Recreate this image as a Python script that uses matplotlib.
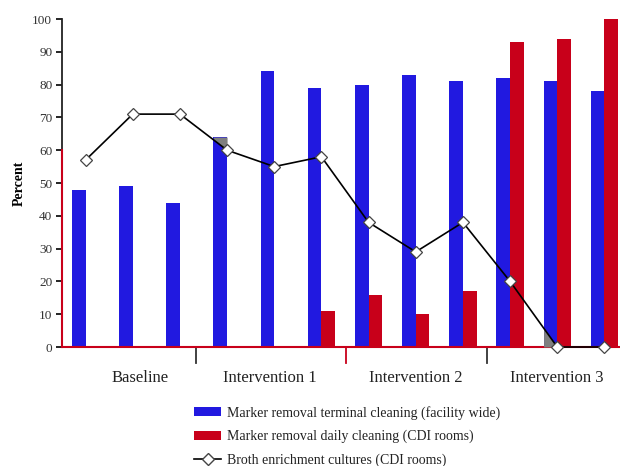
import numpy as np
import matplotlib
matplotlib.use("Agg")
import matplotlib.pyplot as plt
import matplotlib.transforms as mtransforms
from matplotlib.patches import Patch
from matplotlib.lines import Line2D

plt.rcParams['font.family'] = ['Liberation Serif', 'DejaVu Serif']

# ---- data ----
periods = ["Baseline", "Intervention 1", "Intervention 2", "Intervention 3"]
blue_terminal = [48, 49, 44, 64, 84, 79, 80, 83, 81, 82, 81, 78]
red_daily = [0, 0, 0, 0, 0, 11, 16, 10, 17, 93, 94, 100]
broth = [57, 71, 71, 60, 55, 58, 38, 29, 38, 20, 0, 0]
yticks = [0, 10, 20, 30, 40, 50, 60, 70, 80, 90, 100]
legend_labels = ["Marker removal terminal cleaning (facility wide)",
                 "Marker removal daily cleaning (CDI rooms)",
                 "Broth enrichment cultures (CDI rooms)"]

BLUE = "#2119E0"
RED = "#C8001A"
GRAY = "#7f7f7f"
DARK = "#333333"

W, H = 620, 466
fig = plt.figure(figsize=(W / 100, H / 100), dpi=100)
left_px, right_px, top_px, bot_px = 62, 628, 19, 347
ax = fig.add_axes([left_px / W, 1 - bot_px / H,
                   (right_px - left_px) / W, (bot_px - top_px) / H])

x = np.arange(len(blue_terminal))
bw = 0.29
ax.bar(x - bw / 2, blue_terminal, width=bw, color=BLUE, linewidth=0, zorder=2)
ax.bar(x + bw / 2, red_daily, width=bw, color=RED, linewidth=0, zorder=2)

# gray artefacts where the line crosses some blue bars
xs = np.linspace(3 - bw, 3, 30)
ax.fill_between(xs, np.interp(xs, x, broth), blue_terminal[3], color=GRAY,
                linewidth=0, zorder=3)
xs = np.linspace(10 - bw, 10, 30)
ax.fill_between(xs, 0, np.interp(xs, x, broth), color=GRAY, linewidth=0, zorder=3)

ax.plot(x, broth, color="black", linewidth=1.2, marker="D", markersize=6.5,
        markerfacecolor="white", markeredgecolor="#444444", markeredgewidth=0.9,
        zorder=5, clip_on=False)

ax.set_xlim(-0.5, 11.5)
ax.set_ylim(0, 100)
ax.set_yticks(yticks)
ax.set_yticklabels([str(t) for t in yticks], fontsize=9.5, color=DARK)
ax.set_xticks([])
for s in ["top", "right"]:
    ax.spines[s].set_visible(False)
ax.spines["bottom"].set_color(RED)
ax.spines["bottom"].set_linewidth(1.5)
ax.spines["left"].set_color("#222222")
ax.spines["left"].set_linewidth(1.3)
ax.tick_params(axis="y", length=4, width=1.2, direction="out", pad=3)
for t, tick in zip(yticks, ax.yaxis.get_major_ticks()):
    if t <= 60:
        tick.tick1line.set_color(RED)
    else:
        tick.tick1line.set_color("#222222")
# red portion of the left axis
trans_ax_y = mtransforms.blended_transform_factory(ax.transAxes, ax.transData)
ax.plot([0, 0], [0, 60], transform=trans_ax_y, color=RED, linewidth=1.5,
        clip_on=False, zorder=6)

ax.set_ylabel("Percent", fontsize=10, fontweight="bold", labelpad=5)

# period separators and labels
trans = mtransforms.blended_transform_factory(ax.transData, ax.transAxes)
sep_x = [2.34, 5.52, 8.51]
sep_c = ["#333333", RED, "#333333"]
for sx, sc in zip(sep_x, sep_c):
    ax.plot([sx, sx], [0, -0.049], transform=trans, color=sc, linewidth=1.3,
            clip_on=False)
label_x = [1.15, 3.9, 7.0, 10.0]
for lx, name in zip(label_x, periods):
    ax.text(lx, -0.094, name, transform=trans, ha="center", va="center",
            fontsize=12, color="#222222")

handles = [Patch(facecolor=BLUE, edgecolor="none"),
           Patch(facecolor=RED, edgecolor="none"),
           Line2D([], [], color="black", linewidth=1.2, marker="D", markersize=6,
                  markerfacecolor="white", markeredgecolor="#444444")]
fig.legend(handles, legend_labels, loc="upper left",
           bbox_to_anchor=(194 / W, 1 - 406 / H), frameon=False,
           fontsize=10, handlelength=1.95, handleheight=0.6,
           handletextpad=0.4, labelspacing=0.72, borderaxespad=0,
           borderpad=0, labelcolor="#222222")

fig.savefig("out.png", dpi=100)
